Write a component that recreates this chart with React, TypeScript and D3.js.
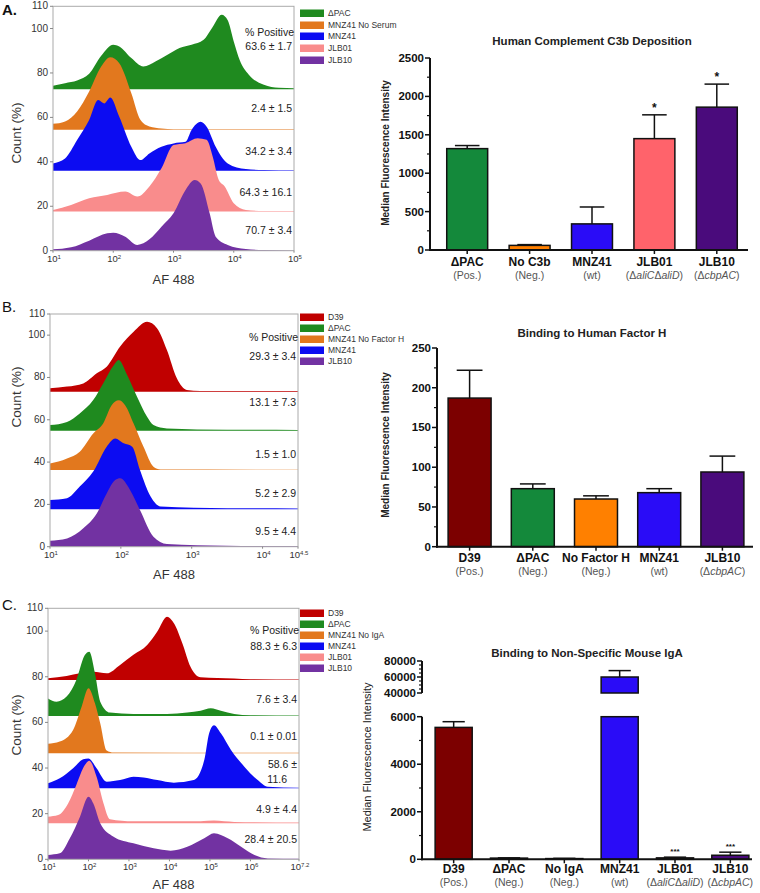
import React from 'react';
import * as d3 from 'd3';

const FONT = "'Liberation Sans', Arial, Helvetica, sans-serif";

// ---------- Panel A histograms: [log10(AF 488), count %] ----------
const aNames = ['ΔPAC', 'MNZ41 No Serum', 'MNZ41', 'JLB01', 'JLB10'];
const aPositive = ['63.6 ± 1.7', '2.4 ± 1.5', '34.2 ± 3.4', '64.3 ± 16.1', '70.7 ± 3.4'];
const aOffsets = [72.7, 54.4, 36, 17.6, 0];
const aDPAC = [[1.0, 1.5], [1.2, 2.7], [1.4, 3.9], [1.6, 6.9], [1.8, 15], [2.0, 20], [2.1, 19.2], [2.3, 14], [2.5, 10.2], [2.7, 12.5], [2.9, 15.5], [3.1, 18.5], [3.3, 20], [3.5, 22.2], [3.65, 28], [3.8, 33.5], [3.9, 31], [4.0, 21.5], [4.1, 13], [4.25, 6.5], [4.5, 2], [4.75, 0.6], [5.0, 0.4]];
const aNoSerum = [[1.0, 2.7], [1.2, 3.8], [1.4, 8.3], [1.6, 17.3], [1.8, 28.5], [1.95, 32.7], [2.1, 30], [2.3, 16.5], [2.45, 4.5], [2.6, 1.5], [2.8, 0.6], [3.0, 0.3], [5.0, 0.3]];
const aMNZ41 = [[1.0, 3.3], [1.2, 5.5], [1.4, 13.8], [1.6, 22.8], [1.75, 31.8], [1.85, 30.3], [1.95, 33], [2.1, 24.3], [2.3, 10.8], [2.45, 4.8], [2.6, 7.8], [2.8, 10.8], [3.0, 12.3], [3.2, 13], [3.3, 18.3], [3.45, 22], [3.55, 19.8], [3.7, 10.8], [3.9, 3.3], [4.2, 0.75], [4.5, 0.3], [5.0, 0.2]];
const aJLB01 = [[1.0, 0.75], [1.3, 3], [1.6, 6], [1.9, 7.5], [2.2, 9], [2.4, 6.75], [2.6, 11.3], [2.8, 19.5], [3.0, 30], [3.2, 30.8], [3.4, 33], [3.55, 32.3], [3.65, 24.8], [3.75, 14.3], [3.85, 11.3], [4.0, 3.75], [4.2, 0.75], [4.5, 0.3], [5.0, 0.3]];
const aJLB10 = [[1.0, 0.6], [1.3, 1.5], [1.6, 4.5], [1.9, 7.8], [2.0, 8.1], [2.2, 6.3], [2.4, 2.6], [2.6, 5.1], [2.8, 10.8], [3.0, 16.8], [3.2, 27.3], [3.35, 31.8], [3.45, 30.3], [3.6, 16.8], [3.7, 6.3], [3.9, 2.6], [4.2, 0.75], [4.5, 0.3], [5.0, 0.1]];
const aXTicks = ['1', '2', '3', '4', '5'];

// ---------- Panel B histograms ----------
const bNames = ['D39', 'ΔPAC', 'MNZ41 No Factor H', 'MNZ41', 'JLB10'];
const bPositive = ['29.3 ± 3.4', '13.1 ± 7.3', '1.5 ± 1.0', '5.2 ± 2.9', '9.5 ± 4.4'];
const bOffsets = [73.3, 54.8, 36.2, 17.7, 0];
const bD39 = [[1.0, 1.6], [1.24, 2.4], [1.47, 3.9], [1.66, 8.7], [1.8, 11.8], [1.99, 21.3], [2.18, 28.3], [2.37, 33], [2.51, 30], [2.65, 19.7], [2.79, 6.3], [2.93, 0.8], [3.12, 0.3], [4.5, 0.3]];
const bDPAC = [[1.0, 2.7], [1.24, 4.2], [1.42, 8.2], [1.61, 14.5], [1.75, 22.4], [1.9, 31], [1.97, 33.4], [2.08, 27], [2.23, 16], [2.37, 6.6], [2.46, 2.7], [2.65, 1.1], [3.5, 0.5], [4.5, 0.4]];
const bNoFH = [[1.0, 3.1], [1.24, 5.5], [1.42, 8.7], [1.61, 17.3], [1.75, 22], [1.87, 30.7], [1.97, 33], [2.06, 30.7], [2.18, 22], [2.32, 11], [2.46, 1.6], [2.56, 0.3], [4.5, 0.2]];
const bMNZ41 = [[1.0, 4.4], [1.24, 5.2], [1.42, 10.7], [1.61, 17.8], [1.8, 29.6], [1.92, 33.5], [2.04, 31.2], [2.16, 29.6], [2.27, 18.5], [2.42, 6], [2.56, 1.3], [3.5, 0.5], [4.5, 0.4]];
const bJLB10 = [[1.0, 2.8], [1.24, 3.9], [1.47, 8.7], [1.66, 15.7], [1.8, 25.2], [1.92, 31.5], [1.99, 32.3], [2.13, 26.8], [2.27, 17.3], [2.46, 4.7], [2.65, 1.3], [3.5, 0.5], [4.5, 0.3]];
const bXTicks = ['1', '2', '3', '4', '4.5'];

// ---------- Panel C histograms ----------
const cNames = ['D39', 'ΔPAC', 'MNZ41 No IgA', 'MNZ41', 'JLB01', 'JLB10'];
const cPositive = ['88.3 ± 6.3', '7.6 ± 3.4', '0.1 ± 0.01', '58.6 ±\n11.6', '4.9 ± 4.4', '28.4 ± 20.5'];
const cOffsets = [78.6, 62.8, 46.5, 31.1, 15.8, 0];
const cD39 = [[1.0, 0.7], [1.46, 1.75], [1.79, 2.9], [2.12, 3.6], [2.45, 2.9], [2.78, 6.6], [3.11, 11], [3.45, 15.3], [3.7, 21.2], [3.94, 27.7], [4.11, 24.8], [4.32, 16], [4.52, 5.8], [4.77, 1.2], [5.6, 0.6], [6.0, 0.3], [7.2, 0.2]];
const cDPAC = [[1.0, 7.7], [1.21, 6.3], [1.46, 8.5], [1.7, 15.8], [1.91, 26.7], [2.02, 28.2], [2.16, 18.7], [2.29, 6.3], [2.53, 1.5], [3.11, 0.9], [3.94, 0.9], [4.44, 1.5], [4.77, 2.3], [5.02, 3.4], [5.27, 2.3], [5.6, 0.9], [6.0, 0.3], [7.2, 0.2]];
const cNoIgA = [[1.0, 4.1], [1.29, 5.1], [1.62, 10.2], [1.83, 20.4], [2.0, 28.5], [2.16, 21.9], [2.29, 13.1], [2.45, 1.2], [2.62, 0.3], [7.2, 0.2]];
const cMNZ41 = [[1.0, 2.2], [1.29, 4.4], [1.62, 8.8], [1.87, 12.7], [2.0, 13.1], [2.2, 8.8], [2.45, 2.9], [2.78, 3.6], [3.11, 5.1], [3.36, 4.8], [3.7, 3.6], [4.11, 2.5], [4.6, 3.6], [4.86, 12.4], [4.98, 24.1], [5.1, 27.7], [5.27, 24.1], [5.52, 16.8], [5.85, 9.5], [6.18, 3.6], [6.43, 0.7], [7.2, 0.3]];
const cJLB01 = [[1.0, 2.9], [1.25, 3.6], [1.5, 8.8], [1.7, 16.8], [1.91, 25.5], [2.02, 27.4], [2.2, 20.4], [2.37, 8.8], [2.53, 1.8], [3.11, 0.9], [4.77, 0.9], [5.1, 1.2], [5.6, 0.6], [7.2, 0.3]];
const cJLB10 = [[1.0, 1.9], [1.29, 2.6], [1.54, 9.2], [1.79, 18.7], [2.0, 27.4], [2.12, 24.5], [2.29, 15.8], [2.62, 9.9], [3.11, 7], [3.61, 4.8], [4.03, 3.8], [4.44, 5.5], [4.86, 9.2], [5.1, 11.4], [5.44, 9.2], [5.77, 5.5], [6.1, 1.9], [6.43, 0.4], [7.2, 0.2]];
const cXTicks = ['1', '2', '3', '4', '5', '6', '7.2'];

const histYTicks = [0, 20, 40, 60, 80, 100, 110];

// ---------- Bar charts ----------
const aBarCats = ['ΔPAC', 'No C3b', 'MNZ41', 'JLB01', 'JLB10'];
const aBarSubs = ['(Pos.)', '(Neg.)', '(wt)', '(Δ_aliC_Δ_aliD_)', '(Δ_cbpAC_)'];
const aBarMeans = [1320, 60, 340, 1450, 1860];
const aBarErrTops = [1360, 70, 560, 1760, 2160];
const aBarSig = ['', '', '', '*', '*'];

const bBarCats = ['D39', 'ΔPAC', 'No Factor H', 'MNZ41', 'JLB10'];
const bBarSubs = ['(Pos.)', '(Neg.)', '(Neg.)', '(wt)', '(Δ_cbpAC_)'];
const bBarMeans = [187, 73, 60, 68, 94];
const bBarErrTops = [222, 79, 64, 73, 114];
const bBarSig = ['', '', '', '', ''];

const cBarCats = ['D39', 'ΔPAC', 'No IgA', 'MNZ41', 'JLB01', 'JLB10'];
const cBarSubs = ['(Pos.)', '(Neg.)', '(Neg.)', '(wt)', '(Δ_aliC_Δ_aliD_)', '(Δ_cbpAC_)'];
const cBarMeans = [5550, 50, 30, 60000, 60, 170];
const cBarErrTops = [5790, 60, 40, 68000, 90, 300];
const cBarSig = ['', '', '', '', '***', '***'];

// colours
const hGreen = '#1f8a1f', hOrange = '#e2781e', hBlue = '#0c0cf2', hPink = '#f98c8c', hPurple = '#7232a2', hRed = '#c00000';

type Series = number[][];

const histA = {
  names: aNames, positive: aPositive, offsets: aOffsets,
  series: [aDPAC, aNoSerum, aMNZ41, aJLB01, aJLB10],
  colors: [hGreen, hOrange, hBlue, hPink, hPurple],
  xTicks: aXTicks, xMax: 5,
  left: 53, right: 294, top: 6.3, bottom: 250.7,
  letter: 'A.', letterBold: true, letterY: 15,
  posHeadY: 36, posY: [50, 112, 155, 196, 234],
  legendY: [13, 25, 36, 48, 60],
  countY: 133, tickY: 262, afY: 284,
};
const histB = {
  names: bNames, positive: bPositive, offsets: bOffsets,
  series: [bD39, bDPAC, bNoFH, bMNZ41, bJLB10],
  colors: [hRed, hGreen, hOrange, hBlue, hPurple],
  xTicks: bXTicks, xMax: 4.5,
  left: 50, right: 298, top: 314, bottom: 546.7,
  letter: 'B.', letterBold: false, letterY: 312,
  posHeadY: 341, posY: [360, 406, 458, 497, 535],
  legendY: [317, 328, 339, 350, 361],
  countY: 397, tickY: 558, afY: 579,
};
const histC = {
  names: cNames, positive: cPositive, offsets: cOffsets,
  series: [cD39, cDPAC, cNoIgA, cMNZ41, cJLB01, cJLB10],
  colors: [hRed, hGreen, hOrange, hBlue, hPink, hPurple],
  xTicks: cXTicks, xMax: 7.2,
  left: 48, right: 299, top: 608.3, bottom: 859.3,
  letter: 'C.', letterBold: false, letterY: 610,
  posHeadY: 634, posY: [650, 703, 740, 768, 813, 843],
  legendY: [613, 624, 635, 646, 657, 668],
  countY: 725, tickY: 870, afY: 889,
};

function Histogram({ cfg }: { cfg: any }) {
  const x = d3.scaleLog().domain([10, Math.pow(10, cfg.xMax)]).range([cfg.left, cfg.right]);
  const y = d3.scaleLinear().domain([0, 110]).range([cfg.bottom, cfg.top]);
  return (
    <g fontFamily={FONT}>
      <text x={2} y={cfg.letterY} fontSize={15} fontWeight={cfg.letterBold ? 'bold' : 'normal'} fill="#111">{cfg.letter}</text>
      {cfg.series.map((s: Series, i: number) => {
        const off = cfg.offsets[i];
        const area = d3.area<number[]>()
          .x(d => x(Math.pow(10, d[0])))
          .y0(y(off))
          .y1(d => y(off + d[1]))
          .curve(d3.curveMonotoneX);
        return <path key={i} d={area(s) || ''} fill={cfg.colors[i]} />;
      })}
      <rect x={cfg.left} y={cfg.top} width={cfg.right - cfg.left} height={cfg.bottom - cfg.top} fill="none" stroke="#aaa" strokeWidth={1} />
      {histYTicks.map(t => (
        <g key={t}>
          <line x1={cfg.left - 3} x2={cfg.left} y1={y(t)} y2={y(t)} stroke="#888" />
          <text x={cfg.left - 5} y={y(t) + 3} fontSize={10} textAnchor="end" fill="#333">{t}</text>
        </g>
      ))}
      {cfg.xTicks.map((e: string) => (
        <g key={e}>
          <line x1={x(Math.pow(10, +e))} x2={x(Math.pow(10, +e))} y1={cfg.bottom} y2={cfg.bottom + 2} stroke="#888" />
          <text x={x(Math.pow(10, +e)) + 1} y={cfg.tickY} fontSize={9.5} textAnchor="middle" fill="#333">
            10<tspan dy={-3.5} fontSize={6}>{e}</tspan>
          </text>
        </g>
      ))}
      <text transform={`translate(21,${cfg.countY}) rotate(-90)`} fontSize={13.5} textAnchor="middle" fill="#333">Count (%)</text>
      <text x={(cfg.left + cfg.right) / 2} y={cfg.afY} fontSize={13} textAnchor="middle" fill="#333">AF 488</text>
      <text x={cfg.right} y={cfg.posHeadY} fontSize={10.5} textAnchor="end" fill="#222">% Positive</text>
      {cfg.positive.map((p: string, i: number) => {
        const lines = p.split('\n');
        return lines.map((ln, j) => (
          <text key={i + '-' + j} x={cfg.right - 2 - j * 10} y={cfg.posY[i] + j * 15} fontSize={10.5} textAnchor="end" fill="#222">{ln}</text>
        ));
      })}
      {cfg.names.map((n: string, i: number) => (
        <g key={n}>
          <rect x={300} y={cfg.legendY[i] - 3.5} width={24} height={7.5} fill={cfg.colors[i]} />
          <text x={328} y={cfg.legendY[i] + 3} fontSize={8.5} fill="#333">{n}</text>
        </g>
      ))}
    </g>
  );
}

const barA = {
  title: 'Human Complement C3b Deposition', titleX: 592, titleY: 45,
  cats: aBarCats, subs: aBarSubs, means: aBarMeans, errs: aBarErrTops, sig: aBarSig,
  colors: ['#14893b', '#ff8000', '#2a0cf7', '#ff636b', '#4a0b7c'],
  axisX: 430, axisEnd: 748, band: [436, 748], pad: 0.344,
  segs: [{ domain: [0, 2500], range: [250, 58], major: d3.range(0, 2501, 500), minor: d3.range(250, 2500, 500) }],
  catY: 266, subY: 279, yLabelX: 389, yLabelY: 153, yLabelBold: true,
};
const barB = {
  title: 'Binding to Human Factor H', titleX: 592, titleY: 337,
  cats: bBarCats, subs: bBarSubs, means: bBarMeans, errs: bBarErrTops, sig: bBarSig,
  colors: ['#7c0000', '#14893b', '#ff8000', '#2a0cf7', '#4a0b7c'],
  axisX: 437, axisEnd: 753, band: [438, 754], pad: 0.32,
  segs: [{ domain: [0, 250], range: [546.7, 348], major: d3.range(0, 251, 50), minor: d3.range(25, 250, 50) }],
  catY: 562, subY: 575, yLabelX: 389, yLabelY: 445, yLabelBold: true,
};
const barC = {
  title: 'Binding to Non-Specific Mouse IgA', titleX: 587, titleY: 657,
  cats: cBarCats, subs: cBarSubs, means: cBarMeans, errs: cBarErrTops, sig: cBarSig,
  colors: ['#7c0000', '#14893b', '#ff8000', '#2a0cf7', '#ff636b', '#4a0b7c'],
  axisX: 422, axisEnd: 752, band: [426, 758], pad: 0.33,
  segs: [
    { domain: [0, 6000], range: [859.3, 716.7], major: d3.range(0, 6001, 2000), minor: d3.range(1000, 6000, 2000) },
    { domain: [40000, 80000], range: [693, 661], major: d3.range(40000, 80001, 20000), minor: d3.range(45000, 80000, 5000).filter(v => v % 20000 !== 0) },
  ],
  catY: 873, subY: 886, yLabelX: 371, yLabelY: 757, yLabelBold: false,
};

function SubLabel({ text, x, y }: { text: string; x: number; y: number }) {
  const parts = text.split('_');
  return (
    <text x={x} y={y} fontSize={10.5} textAnchor="middle" fill="#555">
      {parts.map((p, i) => <tspan key={i} fontStyle={i % 2 ? 'italic' : 'normal'}>{p}</tspan>)}
    </text>
  );
}

function BarChart({ cfg }: { cfg: any }) {
  const xb = d3.scaleBand<string>().domain(cfg.cats).range(cfg.band)
    .paddingInner(cfg.pad).paddingOuter(cfg.pad / 2);
  const segs = cfg.segs.map((s: any) => ({ ...s, y: d3.scaleLinear().domain(s.domain).range(s.range) }));
  const base = segs[0].range[0];
  const bw = xb.bandwidth();
  return (
    <g fontFamily={FONT}>
      <text x={cfg.titleX} y={cfg.titleY} fontSize={11.5} fontWeight="bold" textAnchor="middle" fill="#222">{cfg.title}</text>
      <text transform={`translate(${cfg.yLabelX},${cfg.yLabelY}) rotate(-90)`} fontSize={cfg.yLabelBold ? 10 : 11}
        fontWeight={cfg.yLabelBold ? 'bold' : 'normal'} textAnchor="middle" fill="#222">Median Fluorescence Intensity</text>
      {cfg.cats.map((c: string, i: number) => {
        const x0 = xb(c) as number;
        const v = cfg.means[i], e = cfg.errs[i];
        const cx = x0 + bw / 2;
        const eSeg = segs.find((s: any) => e >= s.domain[0] && e <= s.domain[1]);
        const vSeg = segs.find((s: any) => v >= s.domain[0] && v <= s.domain[1]);
        return (
          <g key={c}>
            {segs.map((s: any, k: number) => {
              if (v <= s.domain[0]) return null;
              const top = Math.min(v, s.domain[1]);
              const y0 = s.y(s.domain[0]), y1 = s.y(top);
              return <rect key={k} x={x0} y={y1} width={bw} height={y0 - y1} fill={cfg.colors[i]} stroke="#111" strokeWidth={1.5} />;
            })}
            {eSeg && vSeg && (
              <g stroke="#111" strokeWidth={1.5}>
                <line x1={cx} x2={cx} y1={vSeg.y(v)} y2={eSeg.y(e)} />
                <line x1={cx - bw * 0.3} x2={cx + bw * 0.3} y1={eSeg.y(e)} y2={eSeg.y(e)} />
              </g>
            )}
            {cfg.sig[i] && eSeg && (
              <text x={cx} y={eSeg.y(e) - 3} fontSize={cfg.sig[i].length > 1 ? 8 : 12} fontWeight="bold" textAnchor="middle" fill="#111">{cfg.sig[i]}</text>
            )}
            <line x1={cx} x2={cx} y1={base} y2={base + 4} stroke="#111" strokeWidth={1.5} />
            <text x={cx} y={cfg.catY} fontSize={12} fontWeight="bold" textAnchor="middle" fill="#111">{c}</text>
            <SubLabel text={cfg.subs[i]} x={cx} y={cfg.subY} />
          </g>
        );
      })}
      {segs.map((s: any, k: number) => (
        <g key={k}>
          <line x1={cfg.axisX} x2={cfg.axisX} y1={s.range[0] + (k === 0 ? 1 : 0)} y2={s.range[1]} stroke="#111" strokeWidth={2} />
          {s.major.map((t: number) => (
            <g key={t}>
              <line x1={cfg.axisX - 5} x2={cfg.axisX} y1={s.y(t)} y2={s.y(t)} stroke="#111" strokeWidth={1.5} />
              <text x={cfg.axisX - 6} y={s.y(t) + 4} fontSize={11.5} fontWeight="bold" textAnchor="end" fill="#111">{t}</text>
            </g>
          ))}
          {s.minor.map((t: number) => (
            <line key={t} x1={cfg.axisX - 3} x2={cfg.axisX} y1={s.y(t)} y2={s.y(t)} stroke="#111" strokeWidth={1.2} />
          ))}
        </g>
      ))}
      <line x1={cfg.axisX - 1} x2={cfg.axisEnd} y1={base} y2={base} stroke="#111" strokeWidth={2} />
    </g>
  );
}

export default function App() {
  return (
    <div style={{ position: 'absolute', left: 0, top: 0, background: '#fff' }}>
      <svg width={760} height={893} viewBox="0 0 760 893" style={{ display: 'block' }}>
        <rect width={760} height={893} fill="#fff" />
        <Histogram cfg={histA} />
        <Histogram cfg={histB} />
        <Histogram cfg={histC} />
        <BarChart cfg={barA} />
        <BarChart cfg={barB} />
        <BarChart cfg={barC} />
      </svg>
    </div>
  );
}
